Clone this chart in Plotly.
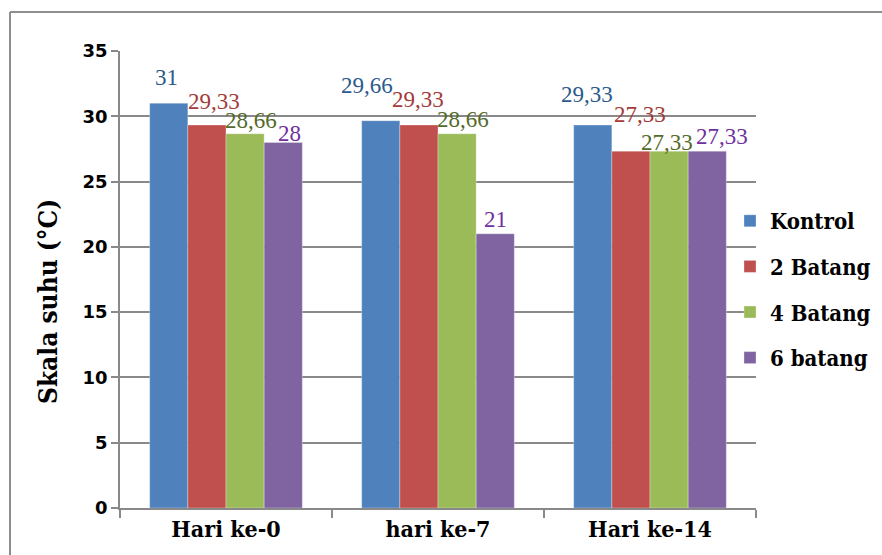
import plotly.graph_objects as go

# Suhu (°C) per perlakuan pada tiap hari pengamatan
categories = ["Hari ke-0", "hari ke-7", "Hari ke-14"]
series_names = ["Kontrol", "2 Batang", "4 Batang", "6 batang"]
kontrol = [31, 29.66, 29.33]
batang2 = [29.33, 29.33, 27.33]
batang4 = [28.66, 28.66, 27.33]
batang6 = [28, 21, 27.33]
y_ticks = [0, 5, 10, 15, 20, 25, 30, 35]

bar_colors = ["#4F81BD", "#C0504D", "#9BBB59", "#8064A2"]
label_colors = ["#2C5A8C", "#A33B3A", "#556B2A", "#7030A0"]
SERIF = "Liberation Serif"
SERIF_BOLD = "DejaVu Serif Condensed"
TICK_SANS = "DejaVu Sans"

# nudges (px) for the value labels so neighbouring labels stay readable
label_dx = [[-2, -14, -6], [7, -1, 9], [6, 6, -2], [6, 0, 15]]
label_dy = [[11, 21, 16], [9, 11, 22], [-1, 0, -6], [-6, 0, 0]]

def fmt(v):
    s = f"{v:.2f}".rstrip("0").rstrip(".")
    return s.replace(".", ",")

W, H = 882, 555
L, R, T, B = 120, 126, 51, 47
pw, ph = W - L - R, H - T - B
bargap = 0.28
bar_px = pw / len(categories) * (1 - bargap) / len(series_names)

def px_x(x):
    return (x - L) / pw

def px_y(y):
    return 1 - (y - T) / ph

fig = go.Figure()
annotations = []
all_series = [kontrol, batang2, batang4, batang6]
for i, (name, vals, c, lc) in enumerate(zip(series_names, all_series, bar_colors, label_colors)):
    fig.add_trace(go.Bar(
        x=categories, y=vals, name=f"<b>{name}</b>", legendgroup=name,
        marker=dict(color=c, line=dict(color="rgba(255,255,255,0.5)", width=0.6)),
    ))
    # value labels above each bar
    for j, (cat, v) in enumerate(zip(categories, vals)):
        annotations.append(dict(
            x=cat, y=v, xref="x", yref="y", text=fmt(v), showarrow=False,
            xanchor="center", yanchor="bottom",
            xshift=(i - 1.5) * bar_px + label_dx[i][j], yshift=label_dy[i][j],
            font=dict(family=SERIF, size=23, color=lc),
        ))

annotations.append(dict(
    text="<b>Skala suhu (°C)</b>", textangle=-90,
    xref="paper", yref="paper", x=px_x(48), y=px_y(302),
    showarrow=False, xanchor="center", yanchor="middle",
    font=dict(family=SERIF_BOLD, size=26, color="black"),
))

fig.update_layout(
    width=W, height=H,
    margin=dict(l=L, r=R, t=T, b=B, autoexpand=False),
    paper_bgcolor="white", plot_bgcolor="white",
    barmode="group", bargap=bargap, bargroupgap=0,
    legend=dict(
        xref="container", yref="container",
        x=730 / W, y=1 - 200 / H, xanchor="left", yanchor="top",
        font=dict(family=SERIF_BOLD, size=22, color="black"),
        itemwidth=30, tracegroupgap=14, bgcolor="rgba(0,0,0,0)",
        traceorder="grouped",
    ),
    showlegend=True,
    xaxis=dict(
        showline=True, linecolor="#898989", linewidth=1.5,
        ticks="outside", tickson="boundaries", ticklen=8, tickcolor="#898989", tickwidth=1.5,
        tickvals=categories, ticktext=[f"<b>{c}</b>" for c in categories],
        tickfont=dict(family=SERIF_BOLD, size=23, color="black"),
        showgrid=False, fixedrange=True, automargin=False,
    ),
    yaxis=dict(
        range=[0, 35], tickvals=y_ticks, ticktext=[f"<b>{t}</b>" for t in y_ticks],
        showgrid=True, gridcolor="#898989", gridwidth=1.5,
        showline=True, linecolor="#898989", linewidth=1.5,
        ticks="outside", ticklen=7, tickcolor="#898989", tickwidth=1.5,
        tickfont=dict(family=TICK_SANS, size=18, color="black"),
        zeroline=False, fixedrange=True, automargin=False,
    ),
    annotations=annotations,
    shapes=[
        dict(type="line", xref="paper", yref="paper",
             x0=px_x(10), x1=px_x(10), y0=px_y(12), y1=px_y(560),
             line=dict(color="#8E8E8E", width=2)),
        dict(type="line", xref="paper", yref="paper",
             x0=px_x(10), x1=px_x(890), y0=px_y(12), y1=px_y(12),
             line=dict(color="#8E8E8E", width=2)),
    ],
)

fig.write_html("out.html")
